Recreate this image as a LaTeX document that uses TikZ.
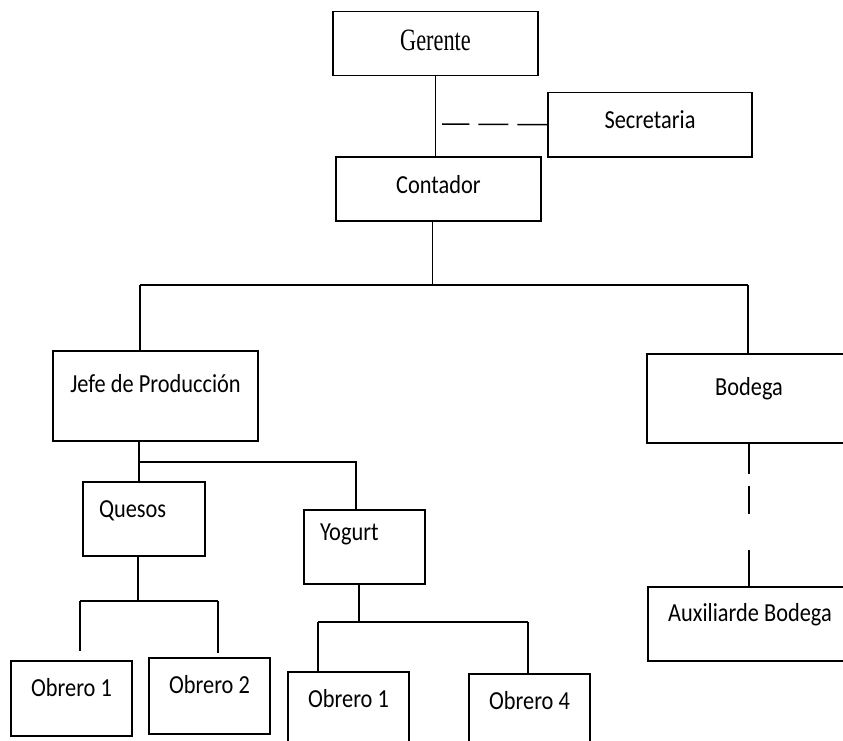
\documentclass[tikz,border=0pt]{standalone}
\usepackage{fontspec}
\newfontfamily\cajafont[FakeStretch=0.86]{Carlito}
\newfontfamily\gerentefont[FakeStretch=0.72]{Liberation Serif}
\usetikzlibrary{positioning, calc}

\tikzset{
    caja/.style={draw, rectangle, anchor=north, inner sep=0pt, line width=1.5pt,
        font=\cajafont\fontsize{26}{30}\selectfont},
    sangria/.style={inner xsep=16pt, text width=#1, align=left},
    linea/.style={line width=1.5pt},
    rayas/.style={line width=1.5pt, dash pattern=#1}
}

\begin{document}
\begin{tikzpicture}[x=1pt, y=-1pt]
            \clip (0,0) rectangle (843,741);

            \node[caja, minimum width=205pt, text height=39pt, text depth=25pt,
                font=\gerentefont\fontsize{31}{36}\selectfont] (gerente) at (435.5,11) {Gerente};
            \node[caja, minimum width=204pt, text height=36pt, text depth=28pt] (secre) at (650,92) {Secretaria};
            \node[caja, minimum width=205pt, text height=37pt, text depth=27pt] (conta) at (438.5,156) {Contador};
            \node[caja, minimum width=205pt, text height=42pt, text depth=48pt] (jefe) at (155.5,350) {Jefe de Producción};
            \node[caja, minimum width=204pt, text height=42pt, text depth=47pt] (bodega) at (749,353) {Bodega};
            \node[caja, minimum width=204pt, text height=35pt, text depth=39pt] (auxiliar) at (750,586) {Auxiliarde Bodega};
            \node[caja, sangria=90pt, text height=36pt, text depth=38pt] (quesos) at (144,481) {Quesos};
            \node[caja, sangria=89pt, text height=31pt, text depth=43pt] (yogurt) at (364.5,509) {Yogurt};
            \node[caja, minimum width=121pt, text height=36pt, text depth=39pt] (obr1) at (71.5,660) {Obrero 1};
            \node[caja, minimum width=121pt, text height=36pt, text depth=40pt] (obr2) at (209.5,657) {Obrero 2};
            \node[caja, minimum width=121pt, text height=36pt, text depth=40pt] (obr3) at (348.5,671) {Obrero 1};
            \node[caja, minimum width=121pt, text height=36pt, text depth=40pt] (obr4) at (529.5,673) {Obrero 4};

            % lineas de mando
            \coordinate (sraya) at (442,124);
            \coordinate (busL) at (140,285);
            \coordinate (busR) at (748,285);
            \coordinate (jbus) at (139,462);
            \coordinate (ybus) at (356,462);
            \coordinate (qbus) at (138,601);
            \coordinate (qbusL) at (80,601);
            \coordinate (qbusR) at (218,601);
            \coordinate (obus) at (359,622);
            \coordinate (obusL) at (318,622);
            \coordinate (obusR) at (528,622);

            \draw[linea] (gerente.south) -- (gerente.south |- conta.north);
            \draw[rayas={on 30pt off 9pt}] (secre.west) -- (sraya);
            \draw[linea] ([xshift=-6pt]conta.south) -- ([xshift=-6pt]conta.south |- busL);
            \draw[linea] (busL) -- (busR);
            \draw[linea] (busL) -- (busL |- jefe.north);
            \draw[linea] (busR) -- (busR |- bodega.north);
            \draw[rayas={on 30pt off 12pt on 28pt off 36pt on 40pt}] (bodega.south) -- (bodega.south |- auxiliar.north);

            \draw[linea] (jbus |- jefe.south) -- (jbus |- quesos.north);
            \draw[linea] (jbus) -- (ybus) -- (ybus |- yogurt.north);

            \draw[linea] (qbus |- quesos.south) -- (qbus);
            \draw[linea] (qbusL) -- (qbusR);
            \draw[linea, shorten >=9pt] (qbusL) -- (qbusL |- obr1.north);
            \draw[linea, shorten >=4pt] (qbusR) -- (qbusR |- obr2.north);

            \draw[linea] (obus |- yogurt.south) -- (obus);
            \draw[linea] (obusL) -- (obusR);
            \draw[linea] (obusL) -- (obusL |- obr3.north);
            \draw[linea] (obusR) -- (obusR |- obr4.north);
\end{tikzpicture}
\end{document}
